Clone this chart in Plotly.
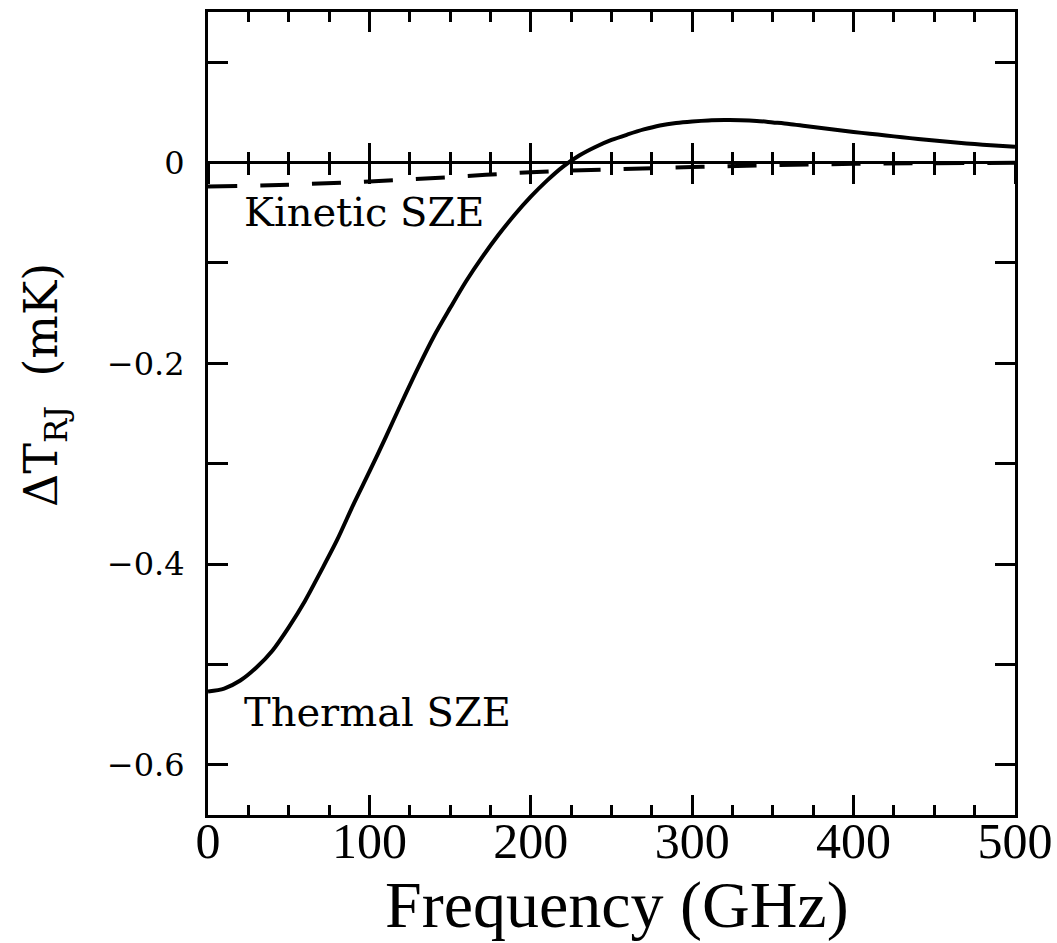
import plotly.graph_objects as go

# ---- data ----
freq_thermal = [0, 10, 20, 30, 40, 50, 60, 70, 80, 90, 100, 110, 120, 130, 140,
                150, 160, 170, 180, 190, 200, 210, 220, 230, 240, 250, 260,
                270, 280, 290, 300, 310, 320, 330, 340, 350, 360, 370, 380,
                390, 400, 410, 420, 430, 440, 450, 460, 470, 480, 490, 500]
dT_thermal = [-0.527, -0.524, -0.516, -0.503, -0.486, -0.463, -0.437, -0.407,
              -0.376, -0.341, -0.308, -0.274, -0.239, -0.205, -0.173, -0.145,
              -0.118, -0.094, -0.072, -0.052, -0.034, -0.018, -0.004, 0.007,
              0.0155, 0.0225, 0.028, 0.033, 0.037, 0.0395, 0.041, 0.042,
              0.0423, 0.0422, 0.0415, 0.040, 0.0385, 0.0365, 0.0345, 0.0325,
              0.0305, 0.0287, 0.027, 0.0252, 0.0235, 0.022, 0.0205, 0.019,
              0.0178, 0.0167, 0.0157]

freq_kinetic = [0, 50, 100, 150, 200, 250, 300, 350, 400, 450, 500]
dT_kinetic = [-0.0238, -0.0220, -0.0188, -0.0145, -0.0096, -0.0068,
              -0.0045, -0.0025, -0.0013, -0.0006, -0.0003]

x_tickvals = [0, 100, 200, 300, 400, 500]
x_ticktext = ["0", "100", "200", "300", "400", "500"]
y_tickvals = [0, -0.2, -0.4, -0.6]
y_ticktext = ["0", "\u22120.2", "\u22120.4", "\u22120.6"]

labels = ["Kinetic SZE", "Thermal SZE"]
label_x = [21, 21]
label_y = [-0.049, -0.547]

X_RANGE = [0, 500]
Y_RANGE = [-0.65, 0.15]

fig = go.Figure()
fig.add_trace(go.Scatter(x=freq_kinetic, y=dT_kinetic, mode="lines",
                         line=dict(color="black", width=4, dash="29px,23px",
                                   shape="spline"),
                         showlegend=False))
fig.add_trace(go.Scatter(x=freq_thermal, y=dT_thermal, mode="lines",
                         line=dict(color="black", width=4, shape="spline",
                                   smoothing=0.8),
                         showlegend=False))
# empty traces to instantiate the tick axes along the zero line
fig.add_trace(go.Scatter(x=[], y=[], xaxis="x2", yaxis="y", showlegend=False))
fig.add_trace(go.Scatter(x=[], y=[], xaxis="x3", yaxis="y", showlegend=False))

zero_pos = (0 - Y_RANGE[0]) / (Y_RANGE[1] - Y_RANGE[0])

common_zero_axis = dict(overlaying="x", anchor="free", position=zero_pos,
                        side="bottom", range=X_RANGE, tickmode="linear",
                        tick0=0, dtick=100, ticklen=20, tickwidth=3,
                        tickcolor="black", showticklabels=False,
                        showline=False, showgrid=False, zeroline=False,
                        automargin=False)

fig.update_layout(
    width=1057, height=943,
    margin=dict(l=208, r=42, t=12, b=128),
    paper_bgcolor="white", plot_bgcolor="white",
    xaxis=dict(range=X_RANGE, tickvals=x_tickvals, ticktext=x_ticktext,
               ticks="inside", ticklen=20, tickwidth=3, tickcolor="black",
               minor=dict(dtick=25, tick0=0, ticks="inside", ticklen=10,
                          tickwidth=3, tickcolor="black", showgrid=False),
               showline=True, linewidth=3, linecolor="black",
               mirror="allticks", showgrid=False, zeroline=False,
               tickfont=dict(family="Liberation Serif", size=50, color="black"),
               ticklabelstandoff=-20, automargin=False),
    xaxis2=dict(ticks="outside",
                minor=dict(dtick=25, tick0=0, ticks="outside", ticklen=11,
                           tickwidth=3, tickcolor="black"),
                **common_zero_axis),
    xaxis3=dict(ticks="inside",
                minor=dict(dtick=25, tick0=0, ticks="inside", ticklen=11,
                           tickwidth=3, tickcolor="black"),
                **common_zero_axis),
    yaxis=dict(range=Y_RANGE, tickvals=y_tickvals, ticktext=y_ticktext,
               ticks="inside", ticklen=20, tickwidth=3, tickcolor="black",
               minor=dict(dtick=0.1, tick0=0, ticks="inside", ticklen=10,
                          tickwidth=3, tickcolor="black", showgrid=False),
               showline=True, linewidth=3, linecolor="black",
               mirror="allticks", showgrid=False,
               zeroline=True, zerolinecolor="black", zerolinewidth=3,
               tickfont=dict(family="DejaVu Serif", size=32, color="black"),
               ticklabelstandoff=14, automargin=False),
    annotations=[
        dict(text="Frequency (GHz)", xref="paper", yref="paper",
             x=0.507, y=-0.112, xanchor="center", yanchor="middle",
             showarrow=False,
             font=dict(family="Liberation Serif", size=66, color="black")),
        dict(text="\u0394T<sub>RJ</sub>  (mK)", xref="paper", yref="paper",
             x=-0.202, y=0.5355, xanchor="center", yanchor="middle",
             textangle=-90, showarrow=False,
             font=dict(family="DejaVu Serif", size=46, color="black")),
    ] + [
        dict(text=t, x=lx, y=ly, xref="x", yref="y", xanchor="left",
             yanchor="middle", showarrow=False,
             font=dict(family="DejaVu Serif", size=40, color="black"))
        for t, lx, ly in zip(labels, label_x, label_y)
    ],
)

fig.write_html("out.html")
